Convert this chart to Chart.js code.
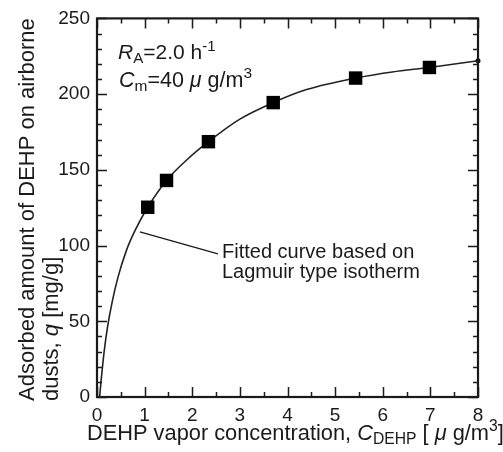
<!DOCTYPE html>
<html><head><meta charset="utf-8">
<script src="https://cdn.jsdelivr.net/npm/chart.js@4/dist/chart.umd.min.js"></script>
<style>html,body{margin:0;padding:0;background:#fff}#wrap{width:503px;height:452px;position:relative}canvas{display:block}</style>
</head><body><div id="wrap"><canvas id="c" width="503" height="452"></canvas></div>
<script>
// measured data (squares)
const measuredC = [1.065, 1.46, 2.34, 3.70, 5.43, 6.98];
const measuredQ = [125.3, 143, 168.6, 194.4, 210.6, 217.6];
// fitted curve
const fitC = [0.055, 0.09, 0.15, 0.22, 0.32, 0.44, 0.62, 0.80, 1.065, 1.46, 1.9, 2.34, 3.0, 3.70, 4.4, 5.43, 6.2, 6.98, 8.0];
const fitQ = [0, 12, 30, 46, 63, 79, 97, 110, 125.3, 143, 157, 168.6, 183.5, 194.4, 203, 210.6, 214.6, 217.6, 222];
const xTickValues = [0, 1, 2, 3, 4, 5, 6, 7, 8];
const yTickValues = [0, 50, 100, 150, 200, 250];
const annotationLines = ["Fitted curve based on", "Lagmuir type isotherm"];

const FONT = '"Liberation Sans", Arial, Helvetica, sans-serif';
const INK = '#1a1a1a';

function drawRich(ctx, x, y, segs, size) {
  let cx = x;
  for (const s of segs) {
    let fs = size, dy = 0;
    if (s.sub) { fs = size * 0.72; dy = size * 0.2; }
    if (s.sup) { fs = size * 0.72; dy = -size * 0.4; }
    ctx.font = (s.italic ? 'italic ' : '') + fs + 'px ' + FONT;
    ctx.fillText(s.t, cx, y + dy);
    cx += ctx.measureText(s.t).width;
  }
  return cx - x;
}

const decor = {
  id: 'decor',
  afterDraw(chart) {
    const ctx = chart.ctx, a = chart.chartArea;
    const xs = chart.scales.x, ys = chart.scales.y;
    ctx.save();
    ctx.strokeStyle = INK; ctx.fillStyle = INK;
    // ticks inside on all sides
    ctx.lineWidth = 1.5;
    ctx.beginPath();
    for (let v = 0; v <= 8.0001; v += 0.5) {
      const px = Math.round(xs.getPixelForValue(v)) + 0.5;
      const L = Math.abs(v - Math.round(v)) < 1e-6 ? 10 : 5;
      ctx.moveTo(px, a.bottom); ctx.lineTo(px, a.bottom - L);
      ctx.moveTo(px, a.top); ctx.lineTo(px, a.top + L);
    }
    for (let v = 0; v <= 250.001; v += 10) {
      const py = Math.round(ys.getPixelForValue(v)) + 0.5;
      const L = v % 50 === 0 ? 10 : 5;
      ctx.moveTo(a.left, py); ctx.lineTo(a.left + L, py);
      ctx.moveTo(a.right, py); ctx.lineTo(a.right - L, py);
    }
    ctx.stroke();
    ctx.lineWidth = 2.2;
    ctx.strokeRect(a.left, a.top, a.right - a.left, a.bottom - a.top);

    // leader line from curve to annotation text
    ctx.lineWidth = 1.3;
    ctx.beginPath();
    ctx.moveTo(xs.getPixelForValue(0.90), ys.getPixelForValue(109));
    ctx.lineTo(xs.getPixelForValue(2.54), ys.getPixelForValue(94.5));
    ctx.stroke();
    ctx.textAlign = 'left'; ctx.textBaseline = 'alphabetic';
    ctx.font = '20px ' + FONT;
    ctx.fillText(annotationLines[0], 222, 258);
    ctx.fillText(annotationLines[1], 222, 278);

    // condition labels
    drawRich(ctx, 118, 59, [{t:'R',italic:true},{t:'A',sub:true},{t:'=2.0 h'},{t:'-1',sup:true}], 21);
    drawRich(ctx, 119, 87, [{t:'C',italic:true},{t:'m',sub:true},{t:'=40 '},{t:'\u03bc',italic:true},{t:' g/m'},{t:'3',sup:true}], 21.5);

    // x axis title
    drawRich(ctx, 87, 440, [{t:'DEHP vapor concentration, '},{t:'C',italic:true},{t:'DEHP',sub:true},{t:' [ '},{t:'\u03bc',italic:true},{t:' g/m'},{t:'3',sup:true},{t:']'}], 21.8);

    // y axis title (two lines, rotated, start-aligned at bottom)
    ctx.save();
    ctx.translate(34, 401); ctx.rotate(-Math.PI / 2);
    drawRich(ctx, 0, 0, [{t:'Adsorbed amount of DEHP on airborne'}], 22);
    ctx.restore();
    ctx.save();
    ctx.translate(58, 401); ctx.rotate(-Math.PI / 2);
    drawRich(ctx, 0, 0, [{t:'dusts, '},{t:'q',italic:true},{t:' [mg/g]'}], 22);
    ctx.restore();
    ctx.restore();
  }
};

new Chart(document.getElementById('c'), {
  type: 'scatter',
  data: {
    datasets: [
      {
        label: 'fit',
        type: 'line',
        data: fitC.map((c, i) => ({x: c, y: fitQ[i]})),
        borderColor: '#222', borderWidth: 1.6,
        pointRadius: fitC.map((c, i) => i === fitC.length - 1 ? 2.5 : 0),
        pointBackgroundColor: '#111', pointBorderWidth: 0,
        cubicInterpolationMode: 'monotone', fill: false, clip: 6, order: 2
      },
      {
        label: 'measured',
        data: measuredC.map((c, i) => ({x: c, y: measuredQ[i]})),
        pointStyle: 'rect', pointRadius: 9.5, pointBackgroundColor: '#000',
        pointBorderColor: '#000', pointBorderWidth: 0, clip: false, order: 1
      }
    ]
  },
  options: {
    responsive: false, animation: false, devicePixelRatio: 1,
    layout: {padding: {left: 0, top: 16, right: 25, bottom: 0}},
    plugins: {legend: {display: false}, tooltip: {enabled: false}},
    scales: {
      x: {
        type: 'linear', min: 0, max: 8,
        afterBuildTicks: s => { s.ticks = xTickValues.map(v => ({value: v})); },
        afterFit: s => { s.height = 55; },
        grid: {display: false, drawTicks: false}, border: {display: false},
        ticks: {font: {size: 19, family: FONT}, color: INK, padding: 7, maxRotation: 0, autoSkip: false}
      },
      y: {
        type: 'linear', min: 0, max: 250,
        afterBuildTicks: s => { s.ticks = yTickValues.map(v => ({value: v})); },
        afterFit: s => { s.width = 97; },
        grid: {display: false, drawTicks: false}, border: {display: false},
        ticks: {font: {size: 19, family: FONT}, color: INK, padding: 7, autoSkip: false}
      }
    }
  },
  plugins: [decor]
});
</script></body></html>
